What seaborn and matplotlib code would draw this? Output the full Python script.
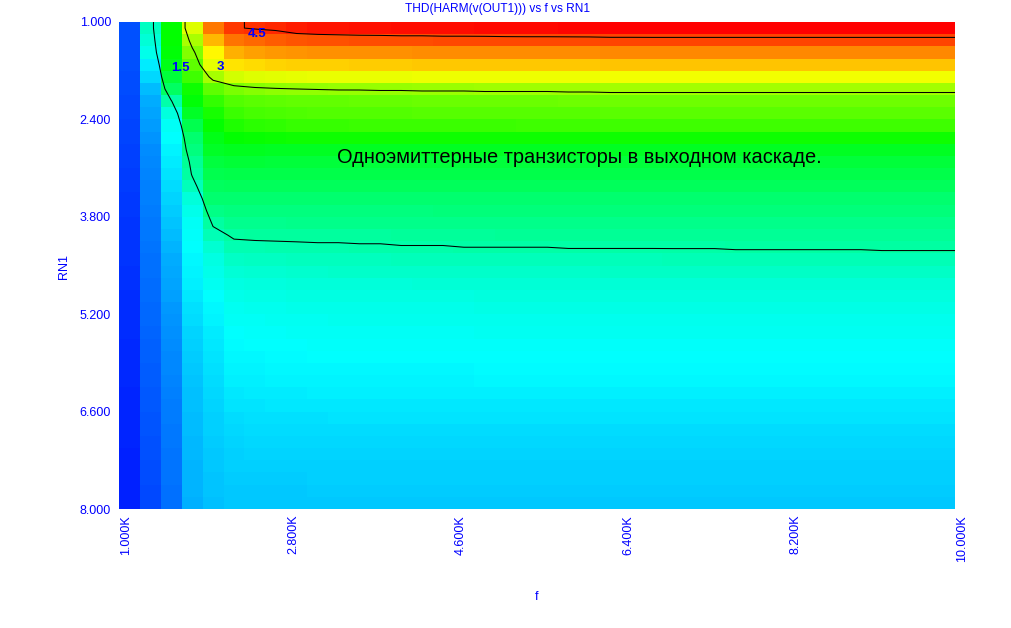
import numpy as np
import pandas as pd
import seaborn as sns
import matplotlib.pyplot as plt
from matplotlib.colors import LinearSegmentedColormap
from matplotlib.transforms import ScaledTranslation

# sweep ranges of the plot
F_START, F_STOP = 1000.0, 10000.0
RN1_START, RN1_STOP = 1.0, 8.0

F_TICKS = [1000, 2800, 4600, 6400, 8200, 10000]
F_TICK_LABELS = ['1.000K', '2.800K', '4.600K', '6.400K', '8.200K', '10.000K']
RN1_TICKS = [1.0, 2.4, 3.8, 5.2, 6.6, 8.0]
RN1_TICK_LABELS = ['1.000', '2.400', '3.800', '5.200', '6.600', '8.000']

CONTOUR_LEVELS = [1.5, 3.0, 4.5]
CONTOUR_LABELS = ['1.5', '3', '4.5']
CONTOUR_LABEL_F = [1660, 2090, 2490]
CONTOUR_LABEL_RN1 = [1.66, 1.65, 1.17]

TITLE = 'THD(HARM(v(OUT1))) vs f vs RN1'
NOTE = 'Одноэмиттерные транзисторы в выходном каскаде.'

# THD, rows = RN1 from 1 (top) to 8, columns = f from 1k to 10k
THD = [
    [0.24, 1.36, 2.30, 3.36, 4.18, 4.48, 4.52, 4.55, 4.62, 4.65, 4.66, 4.67, 4.68, 4.69, 4.69, 4.70, 4.70, 4.71, 4.71, 4.72,
     4.72, 4.73, 4.74, 4.75, 4.75, 4.76, 4.76, 4.76, 4.76, 4.76, 4.76, 4.76, 4.76, 4.76, 4.76, 4.76, 4.76, 4.76, 4.76, 4.76],
    [0.24, 1.28, 2.30, 3.12, 3.87, 4.20, 4.26, 4.30, 4.35, 4.36, 4.37, 4.38, 4.38, 4.39, 4.39, 4.40, 4.40, 4.40, 4.41, 4.41,
     4.41, 4.41, 4.41, 4.42, 4.42, 4.42, 4.42, 4.42, 4.42, 4.42, 4.42, 4.42, 4.42, 4.42, 4.42, 4.42, 4.42, 4.42, 4.42, 4.42],
    [0.23, 1.18, 2.28, 2.92, 3.55, 3.90, 3.98, 4.02, 4.04, 4.05, 4.05, 4.06, 4.06, 4.06, 4.07, 4.07, 4.07, 4.07, 4.08, 4.08,
     4.08, 4.08, 4.08, 4.09, 4.09, 4.09, 4.09, 4.09, 4.09, 4.09, 4.09, 4.09, 4.09, 4.09, 4.09, 4.09, 4.09, 4.09, 4.09, 4.09],
    [0.23, 0.99, 2.20, 2.76, 3.41, 3.65, 3.70, 3.73, 3.75, 3.76, 3.76, 3.77, 3.77, 3.77, 3.78, 3.78, 3.78, 3.78, 3.79, 3.79,
     3.79, 3.79, 3.79, 3.80, 3.80, 3.80, 3.80, 3.80, 3.80, 3.80, 3.80, 3.80, 3.80, 3.80, 3.80, 3.80, 3.80, 3.80, 3.80, 3.80],
    [0.22, 0.88, 2.03, 2.59, 3.10, 3.30, 3.36, 3.39, 3.41, 3.42, 3.42, 3.43, 3.43, 3.43, 3.44, 3.44, 3.44, 3.44, 3.45, 3.45,
     3.45, 3.45, 3.45, 3.46, 3.46, 3.46, 3.46, 3.46, 3.46, 3.46, 3.46, 3.46, 3.46, 3.46, 3.46, 3.46, 3.46, 3.46, 3.46, 3.46],
    [0.21, 0.76, 1.82, 2.36, 2.75, 2.89, 2.95, 2.98, 3.00, 3.01, 3.02, 3.02, 3.03, 3.03, 3.04, 3.04, 3.04, 3.05, 3.05, 3.05,
     3.05, 3.06, 3.06, 3.07, 3.07, 3.07, 3.07, 3.07, 3.07, 3.07, 3.07, 3.07, 3.07, 3.07, 3.07, 3.07, 3.07, 3.07, 3.07, 3.07],
    [0.20, 0.68, 1.48, 2.28, 2.54, 2.70, 2.74, 2.76, 2.77, 2.78, 2.78, 2.79, 2.79, 2.79, 2.80, 2.80, 2.80, 2.81, 2.81, 2.81,
     2.81, 2.82, 2.82, 2.83, 2.83, 2.83, 2.83, 2.83, 2.83, 2.83, 2.83, 2.83, 2.83, 2.83, 2.83, 2.83, 2.83, 2.83, 2.83, 2.83],
    [0.19, 0.64, 1.24, 2.11, 2.40, 2.58, 2.63, 2.66, 2.68, 2.69, 2.69, 2.70, 2.70, 2.70, 2.71, 2.71, 2.71, 2.71, 2.72, 2.72,
     2.72, 2.72, 2.72, 2.73, 2.73, 2.73, 2.73, 2.73, 2.73, 2.73, 2.73, 2.73, 2.73, 2.73, 2.73, 2.73, 2.73, 2.73, 2.73, 2.73],
    [0.18, 0.60, 1.12, 1.92, 2.30, 2.45, 2.50, 2.53, 2.55, 2.56, 2.56, 2.57, 2.57, 2.57, 2.58, 2.58, 2.58, 2.58, 2.58, 2.59,
     2.59, 2.59, 2.59, 2.59, 2.59, 2.59, 2.59, 2.59, 2.59, 2.59, 2.59, 2.59, 2.59, 2.59, 2.59, 2.59, 2.59, 2.59, 2.59, 2.59],
    [0.17, 0.56, 1.07, 1.77, 2.20, 2.30, 2.33, 2.35, 2.36, 2.36, 2.36, 2.36, 2.36, 2.36, 2.36, 2.36, 2.36, 2.36, 2.36, 2.36,
     2.36, 2.36, 2.36, 2.36, 2.36, 2.36, 2.36, 2.36, 2.36, 2.36, 2.36, 2.36, 2.36, 2.36, 2.36, 2.36, 2.36, 2.36, 2.36, 2.36],
    [0.16, 0.52, 1.02, 1.69, 2.11, 2.15, 2.15, 2.14, 2.14, 2.13, 2.13, 2.13, 2.13, 2.13, 2.13, 2.13, 2.13, 2.13, 2.13, 2.13,
     2.13, 2.13, 2.13, 2.13, 2.13, 2.13, 2.13, 2.13, 2.13, 2.13, 2.13, 2.13, 2.13, 2.13, 2.13, 2.13, 2.13, 2.13, 2.13, 2.13],
    [0.15, 0.50, 0.99, 1.58, 2.01, 2.04, 2.04, 2.03, 2.03, 2.03, 2.03, 2.03, 2.03, 2.03, 2.03, 2.03, 2.03, 2.03, 2.03, 2.03,
     2.03, 2.03, 2.03, 2.03, 2.03, 2.03, 2.03, 2.03, 2.03, 2.03, 2.03, 2.03, 2.03, 2.03, 2.03, 2.03, 2.03, 2.03, 2.03, 2.03],
    [0.14, 0.48, 0.95, 1.52, 1.92, 1.95, 1.95, 1.94, 1.94, 1.94, 1.94, 1.94, 1.94, 1.94, 1.94, 1.94, 1.94, 1.94, 1.94, 1.94,
     1.94, 1.94, 1.94, 1.94, 1.94, 1.94, 1.94, 1.94, 1.94, 1.94, 1.94, 1.94, 1.94, 1.94, 1.94, 1.94, 1.94, 1.94, 1.94, 1.94],
    [0.13, 0.47, 0.90, 1.40, 1.84, 1.86, 1.86, 1.86, 1.86, 1.86, 1.86, 1.86, 1.86, 1.86, 1.86, 1.86, 1.86, 1.86, 1.86, 1.86,
     1.86, 1.86, 1.86, 1.86, 1.86, 1.86, 1.86, 1.86, 1.86, 1.86, 1.86, 1.86, 1.86, 1.86, 1.86, 1.86, 1.86, 1.86, 1.86, 1.86],
    [0.12, 0.46, 0.86, 1.25, 1.77, 1.78, 1.78, 1.78, 1.78, 1.78, 1.78, 1.78, 1.78, 1.78, 1.78, 1.78, 1.78, 1.78, 1.78, 1.78,
     1.78, 1.78, 1.78, 1.78, 1.78, 1.78, 1.78, 1.78, 1.78, 1.78, 1.78, 1.78, 1.78, 1.78, 1.78, 1.78, 1.78, 1.78, 1.78, 1.78],
    [0.11, 0.44, 0.83, 1.17, 1.65, 1.70, 1.70, 1.70, 1.70, 1.70, 1.70, 1.70, 1.70, 1.70, 1.70, 1.71, 1.71, 1.71, 1.71, 1.71,
     1.71, 1.71, 1.71, 1.71, 1.71, 1.71, 1.71, 1.71, 1.71, 1.71, 1.71, 1.71, 1.71, 1.71, 1.71, 1.71, 1.71, 1.71, 1.71, 1.71],
    [0.10, 0.43, 0.79, 1.12, 1.53, 1.62, 1.62, 1.62, 1.63, 1.63, 1.63, 1.63, 1.63, 1.63, 1.63, 1.63, 1.63, 1.64, 1.64, 1.64,
     1.64, 1.64, 1.64, 1.64, 1.64, 1.64, 1.64, 1.64, 1.64, 1.64, 1.64, 1.64, 1.64, 1.64, 1.64, 1.64, 1.64, 1.64, 1.64, 1.64],
    [0.10, 0.42, 0.75, 1.09, 1.43, 1.53, 1.54, 1.54, 1.55, 1.55, 1.55, 1.55, 1.55, 1.56, 1.56, 1.56, 1.56, 1.56, 1.57, 1.57,
     1.57, 1.57, 1.57, 1.58, 1.58, 1.58, 1.58, 1.58, 1.58, 1.58, 1.58, 1.58, 1.58, 1.58, 1.58, 1.58, 1.58, 1.58, 1.58, 1.58],
    [0.09, 0.40, 0.71, 1.07, 1.30, 1.44, 1.45, 1.46, 1.46, 1.47, 1.47, 1.48, 1.48, 1.49, 1.49, 1.49, 1.50, 1.50, 1.50, 1.50,
     1.50, 1.51, 1.51, 1.51, 1.51, 1.51, 1.51, 1.51, 1.51, 1.52, 1.52, 1.52, 1.52, 1.52, 1.52, 1.52, 1.53, 1.53, 1.53, 1.53],
    [0.09, 0.39, 0.68, 1.05, 1.22, 1.35, 1.36, 1.37, 1.38, 1.38, 1.39, 1.39, 1.39, 1.40, 1.40, 1.40, 1.40, 1.41, 1.41, 1.41,
     1.41, 1.41, 1.41, 1.41, 1.41, 1.41, 1.42, 1.42, 1.42, 1.42, 1.42, 1.42, 1.42, 1.42, 1.42, 1.42, 1.42, 1.42, 1.42, 1.42],
    [0.08, 0.38, 0.66, 1.03, 1.17, 1.28, 1.29, 1.30, 1.31, 1.31, 1.32, 1.32, 1.32, 1.32, 1.33, 1.33, 1.33, 1.33, 1.33, 1.33,
     1.33, 1.33, 1.33, 1.34, 1.34, 1.34, 1.34, 1.34, 1.34, 1.34, 1.34, 1.34, 1.34, 1.34, 1.34, 1.34, 1.34, 1.34, 1.34, 1.34],
    [0.08, 0.37, 0.64, 1.01, 1.13, 1.22, 1.23, 1.24, 1.25, 1.25, 1.26, 1.26, 1.26, 1.26, 1.27, 1.27, 1.27, 1.27, 1.27, 1.27,
     1.27, 1.27, 1.27, 1.28, 1.28, 1.28, 1.28, 1.28, 1.28, 1.28, 1.28, 1.28, 1.28, 1.28, 1.28, 1.28, 1.28, 1.28, 1.28, 1.28],
    [0.07, 0.36, 0.61, 0.97, 1.08, 1.18, 1.19, 1.20, 1.21, 1.21, 1.22, 1.22, 1.22, 1.22, 1.22, 1.22, 1.22, 1.23, 1.23, 1.23,
     1.23, 1.23, 1.23, 1.23, 1.23, 1.23, 1.23, 1.23, 1.23, 1.23, 1.23, 1.23, 1.23, 1.23, 1.23, 1.23, 1.23, 1.23, 1.23, 1.23],
    [0.07, 0.35, 0.58, 0.93, 1.05, 1.14, 1.15, 1.16, 1.17, 1.17, 1.18, 1.18, 1.18, 1.18, 1.18, 1.18, 1.18, 1.19, 1.19, 1.19,
     1.19, 1.19, 1.19, 1.19, 1.19, 1.19, 1.19, 1.19, 1.19, 1.19, 1.19, 1.19, 1.19, 1.19, 1.19, 1.19, 1.19, 1.19, 1.19, 1.19],
    [0.06, 0.34, 0.56, 0.90, 1.02, 1.11, 1.12, 1.13, 1.14, 1.14, 1.15, 1.15, 1.15, 1.15, 1.15, 1.15, 1.15, 1.16, 1.16, 1.16,
     1.16, 1.16, 1.16, 1.16, 1.16, 1.16, 1.16, 1.16, 1.16, 1.16, 1.16, 1.16, 1.16, 1.16, 1.16, 1.16, 1.16, 1.16, 1.16, 1.16],
    [0.06, 0.33, 0.54, 0.87, 0.99, 1.08, 1.09, 1.10, 1.11, 1.11, 1.12, 1.12, 1.12, 1.12, 1.12, 1.12, 1.12, 1.13, 1.13, 1.13,
     1.13, 1.13, 1.13, 1.13, 1.13, 1.13, 1.13, 1.13, 1.13, 1.13, 1.13, 1.13, 1.13, 1.13, 1.13, 1.13, 1.13, 1.13, 1.13, 1.13],
    [0.05, 0.32, 0.52, 0.85, 0.96, 1.06, 1.07, 1.08, 1.08, 1.09, 1.09, 1.09, 1.09, 1.09, 1.09, 1.09, 1.09, 1.10, 1.10, 1.10,
     1.10, 1.10, 1.10, 1.10, 1.10, 1.10, 1.10, 1.10, 1.10, 1.10, 1.10, 1.10, 1.10, 1.10, 1.10, 1.10, 1.10, 1.10, 1.10, 1.10],
    [0.05, 0.31, 0.51, 0.83, 0.94, 1.04, 1.05, 1.06, 1.06, 1.07, 1.07, 1.07, 1.07, 1.07, 1.07, 1.07, 1.07, 1.08, 1.08, 1.08,
     1.08, 1.08, 1.08, 1.08, 1.08, 1.08, 1.08, 1.08, 1.08, 1.08, 1.08, 1.08, 1.08, 1.08, 1.08, 1.08, 1.08, 1.08, 1.08, 1.08],
    [0.04, 0.30, 0.50, 0.81, 0.92, 1.02, 1.03, 1.04, 1.04, 1.05, 1.05, 1.05, 1.05, 1.05, 1.05, 1.05, 1.05, 1.06, 1.06, 1.06,
     1.06, 1.06, 1.06, 1.06, 1.06, 1.06, 1.06, 1.06, 1.06, 1.06, 1.06, 1.06, 1.06, 1.06, 1.06, 1.06, 1.06, 1.06, 1.06, 1.06],
    [0.04, 0.29, 0.48, 0.80, 0.90, 1.00, 1.01, 1.02, 1.02, 1.03, 1.03, 1.03, 1.03, 1.03, 1.03, 1.03, 1.03, 1.04, 1.04, 1.04,
     1.04, 1.04, 1.04, 1.04, 1.04, 1.04, 1.04, 1.04, 1.04, 1.04, 1.04, 1.04, 1.04, 1.04, 1.04, 1.04, 1.04, 1.04, 1.04, 1.04],
    [0.03, 0.28, 0.46, 0.78, 0.88, 0.97, 0.98, 0.99, 0.99, 1.00, 1.00, 1.00, 1.00, 1.00, 1.00, 1.00, 1.00, 1.01, 1.01, 1.01,
     1.01, 1.01, 1.01, 1.01, 1.01, 1.01, 1.01, 1.01, 1.01, 1.01, 1.01, 1.01, 1.01, 1.01, 1.01, 1.01, 1.01, 1.01, 1.01, 1.01],
    [0.03, 0.27, 0.45, 0.77, 0.86, 0.94, 0.95, 0.96, 0.96, 0.96, 0.97, 0.97, 0.97, 0.97, 0.97, 0.97, 0.97, 0.97, 0.97, 0.97,
     0.97, 0.97, 0.97, 0.97, 0.97, 0.97, 0.97, 0.97, 0.97, 0.97, 0.97, 0.97, 0.97, 0.97, 0.97, 0.97, 0.97, 0.97, 0.97, 0.97],
    [0.02, 0.26, 0.44, 0.76, 0.85, 0.91, 0.92, 0.93, 0.93, 0.93, 0.94, 0.94, 0.94, 0.94, 0.94, 0.94, 0.94, 0.94, 0.94, 0.94,
     0.94, 0.94, 0.94, 0.94, 0.94, 0.94, 0.94, 0.94, 0.94, 0.94, 0.94, 0.94, 0.94, 0.94, 0.94, 0.94, 0.94, 0.94, 0.94, 0.94],
    [0.02, 0.25, 0.43, 0.75, 0.84, 0.89, 0.90, 0.90, 0.90, 0.91, 0.91, 0.91, 0.91, 0.91, 0.91, 0.91, 0.91, 0.91, 0.91, 0.91,
     0.91, 0.91, 0.91, 0.91, 0.91, 0.91, 0.91, 0.91, 0.91, 0.91, 0.91, 0.91, 0.91, 0.91, 0.91, 0.91, 0.91, 0.91, 0.91, 0.91],
    [0.02, 0.24, 0.42, 0.74, 0.83, 0.87, 0.88, 0.88, 0.88, 0.89, 0.89, 0.89, 0.89, 0.89, 0.89, 0.89, 0.89, 0.89, 0.89, 0.89,
     0.89, 0.89, 0.89, 0.89, 0.89, 0.89, 0.89, 0.89, 0.89, 0.89, 0.89, 0.89, 0.89, 0.89, 0.89, 0.89, 0.89, 0.89, 0.89, 0.89],
    [0.01, 0.23, 0.41, 0.73, 0.82, 0.85, 0.86, 0.86, 0.86, 0.87, 0.87, 0.87, 0.87, 0.87, 0.87, 0.87, 0.87, 0.87, 0.87, 0.87,
     0.87, 0.87, 0.87, 0.87, 0.87, 0.87, 0.87, 0.87, 0.87, 0.87, 0.87, 0.87, 0.87, 0.87, 0.87, 0.87, 0.87, 0.87, 0.87, 0.87],
    [0.01, 0.22, 0.40, 0.72, 0.81, 0.84, 0.84, 0.84, 0.84, 0.85, 0.85, 0.85, 0.85, 0.85, 0.85, 0.85, 0.85, 0.85, 0.85, 0.85,
     0.85, 0.85, 0.85, 0.85, 0.85, 0.85, 0.85, 0.85, 0.85, 0.85, 0.85, 0.85, 0.85, 0.85, 0.85, 0.85, 0.85, 0.85, 0.85, 0.85],
    [0.01, 0.21, 0.40, 0.71, 0.80, 0.83, 0.83, 0.83, 0.83, 0.84, 0.84, 0.84, 0.84, 0.84, 0.84, 0.84, 0.84, 0.84, 0.84, 0.84,
     0.84, 0.84, 0.84, 0.84, 0.84, 0.84, 0.84, 0.84, 0.84, 0.84, 0.84, 0.84, 0.84, 0.84, 0.84, 0.84, 0.84, 0.84, 0.84, 0.84],
    [0.00, 0.20, 0.39, 0.71, 0.79, 0.82, 0.82, 0.82, 0.82, 0.83, 0.83, 0.83, 0.83, 0.83, 0.83, 0.83, 0.83, 0.83, 0.83, 0.83,
     0.83, 0.83, 0.83, 0.83, 0.83, 0.83, 0.83, 0.83, 0.83, 0.83, 0.83, 0.83, 0.83, 0.83, 0.83, 0.83, 0.83, 0.83, 0.83, 0.83],
    [0.00, 0.19, 0.38, 0.70, 0.78, 0.81, 0.81, 0.81, 0.81, 0.82, 0.82, 0.82, 0.82, 0.82, 0.82, 0.82, 0.82, 0.82, 0.82, 0.82,
     0.82, 0.82, 0.82, 0.82, 0.82, 0.82, 0.82, 0.82, 0.82, 0.82, 0.82, 0.82, 0.82, 0.82, 0.82, 0.82, 0.82, 0.82, 0.82, 0.82],
]
assert all(len(r) == 40 for r in THD), [len(r) for r in THD]

BLUE = '#0000ff'

sns.set_theme(style='white')
plt.rcParams['font.family'] = ['Liberation Sans', 'DejaVu Sans']

thd = pd.DataFrame(THD)
n_rows, n_cols = thd.shape


def f_pos(f):
    return (f - F_START) / (F_STOP - F_START) * n_cols


def rn1_pos(r):
    return (r - RN1_START) / (RN1_STOP - RN1_START) * n_rows


cmap = LinearSegmentedColormap.from_list(
    'mc', ['#0000ff', '#00ffff', '#00ff00', '#ffff00', '#ff0000'])

fig = plt.figure(figsize=(10.12, 6.28), dpi=100)
ax = fig.add_axes([119 / 1012, 119 / 628, 836 / 1012, 487 / 628])

sns.heatmap(thd, cmap=cmap, vmin=-0.16, vmax=4.76, cbar=False, ax=ax,
            xticklabels=False, yticklabels=False)

# contour on cell centres, edge cells repeated so lines reach the frame
z = np.pad(thd.values, 1, mode='edge')
xs = np.concatenate([[0], np.arange(n_cols) + 0.5, [n_cols]])
ys = np.concatenate([[0], np.arange(n_rows) + 0.5, [n_rows]])
ax.contour(xs, ys, z, levels=CONTOUR_LEVELS, colors='black', linewidths=0.75)

for lab, f, r in zip(CONTOUR_LABELS, CONTOUR_LABEL_F, CONTOUR_LABEL_RN1):
    ax.text(f_pos(f), rn1_pos(r), lab, color=BLUE, fontsize=9.5,
            fontweight='bold', ha='center', va='center')

ax.set_xticks([f_pos(f) for f in F_TICKS])
ax.set_xticklabels(F_TICK_LABELS, rotation=90, color=BLUE, fontsize=9)
ax.set_yticks([rn1_pos(r) for r in RN1_TICKS])
ax.set_yticklabels(RN1_TICK_LABELS, rotation=0, color=BLUE, fontsize=9)
ax.tick_params(axis='x', length=0, pad=4.3)
ax.tick_params(axis='y', length=0, pad=5.8)
shift = ScaledTranslation(7.5 / 100, 0, fig.dpi_scale_trans)
for lbl in ax.get_xticklabels():
    lbl.set_transform(lbl.get_transform() + shift)

ax.set_xlabel('f', color=BLUE, fontsize=9)
ax.xaxis.set_label_coords(0.5, -0.181)
ax.xaxis.label.set_verticalalignment('center')
ax.set_ylabel('RN1', color=BLUE, fontsize=9)
ax.yaxis.set_label_coords(-0.066, 0.497)
ax.yaxis.label.set_verticalalignment('center')

fig.text(498 / 1012, 1 - 9 / 628, TITLE, color=BLUE, fontsize=8.6,
         ha='center', va='center')
ax.text(0.551, 0.721, NOTE, transform=ax.transAxes, color='black',
        fontsize=14.4, ha='center', va='center')

fig.savefig('out.png', dpi=100)
